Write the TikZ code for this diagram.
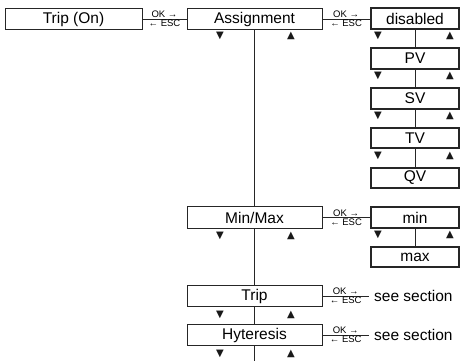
\documentclass[tikz,border=0pt]{standalone}
\usepackage{fontspec}
\setmainfont{Liberation Sans}
\newfontfamily\symfont{DejaVu Sans}
\begin{document}
\begin{tikzpicture}[x=1pt,y=-1pt,
  ink/.style={draw=black!85},
  lbox/.style={ink, line width=0.8pt, minimum width=135pt, minimum height=21.5pt, inner sep=0pt, font=\fontsize{15.5}{18}\selectfont},
  rbox/.style={ink, line width=1.9pt, minimum width=88.5pt, minimum height=20.5pt, inner sep=0pt, font=\fontsize{15.5}{18}\selectfont},
  conn/.style={ink, line width=0.8pt},
  lbl/.style={font=\fontsize{9.5}{10}\selectfont, inner sep=0.6pt},
  tri/.style={font=\symfont\fontsize{10}{10}\selectfont, inner sep=0pt, text=black!90},
  see/.style={font=\fontsize{15.5}{18}\selectfont, inner sep=0pt, anchor=west}
]
\useasboundingbox (0,0) rectangle (462,361);

% left column
\node[lbox, minimum width=137pt] (tripon) at (73.5,19) {Trip (On)};
\node[lbox] (assign) at (254.5,19) {Assignment};
\node[lbox] (minmax) at (254.5,217.5) {Min/Max};
\node[lbox] (trip) at (254.5,296) {Trip};
\node[lbox] (hyt) at (254.5,335) {Hyteresis};

% right column
\node[rbox] (dis) at (415,18.5) {disabled};
\node[rbox] (pv) at (415,58.5) {PV};
\node[rbox] (sv) at (415,98.5) {SV};
\node[rbox] (tv) at (415,138) {TV};
\node[rbox] (qv) at (415,178) {QV};
\node[rbox] (min) at (415,217.5) {min};
\node[rbox] (max) at (415,257) {max};

% see section texts
\node[see] (see1) at (374,296) {see section};
\node[see] (see2) at (374,335) {see section};

% horizontal OK/ESC connectors
\draw[conn] (tripon.east) -- (assign.west)
  node[midway, above, lbl] {OK →} node[midway, below, lbl] {← ESC};
\draw[conn] (assign.east) -- (assign.east -| dis.west)
  node[midway, above, lbl] {OK →} node[midway, below, lbl] {← ESC};
\draw[conn] (minmax.east) -- (min.west)
  node[midway, above, lbl] {OK →} node[midway, below, lbl] {← ESC};
\draw[conn] (trip.east) -- ([xshift=-5pt]see1.west)
  node[midway, above, lbl] {OK →} node[midway, below, lbl] {← ESC};
\draw[conn] (hyt.east) -- ([xshift=-5pt]see2.west)
  node[midway, above, lbl] {OK →} node[midway, below, lbl] {← ESC};

% vertical connectors
\coordinate (bot) at (254.5,361);
\draw[conn] (assign.south) -- (minmax.north);
\draw[conn] (minmax.south) -- (trip.north);
\draw[conn] (trip.south) -- (hyt.north);
\draw[conn] (hyt.south) -- (bot);
\draw[conn] (dis.south) -- (pv.north);
\draw[conn] (pv.south) -- (sv.north);
\draw[conn] (sv.south) -- (tv.north);
\draw[conn] (tv.south) -- (qv.north);
\draw[conn] (min.south) -- (max.north);

% navigation triangles, left column
\node[tri] (ad) at (220,36) {▼};   \node[tri] (au) at (291,36) {▲};
\node[tri] (md) at (220,236) {▼};  \node[tri] (mu) at (291,236) {▲};
\node[tri] (td) at (220,315) {▼};  \node[tri] (tu) at (291,315) {▲};
\node[tri] (hd) at (220,354) {▼};  \node[tri] (hu) at (291,354) {▲};

% navigation triangles, right column
\node[tri] (dd) at (378,35.5) {▼};  \node[tri] (du) at (450,35.5) {▲};
\node[tri] (pd) at (378,75.5) {▼};  \node[tri] (pu) at (450,75.5) {▲};
\node[tri] (sd) at (378,115.5) {▼}; \node[tri] (su) at (450,115.5) {▲};
\node[tri] (vd) at (378,155.5) {▼}; \node[tri] (vu) at (450,155.5) {▲};
\node[tri] (nd) at (378,235) {▼};   \node[tri] (nu) at (450,235) {▲};
\end{tikzpicture}
\end{document}
